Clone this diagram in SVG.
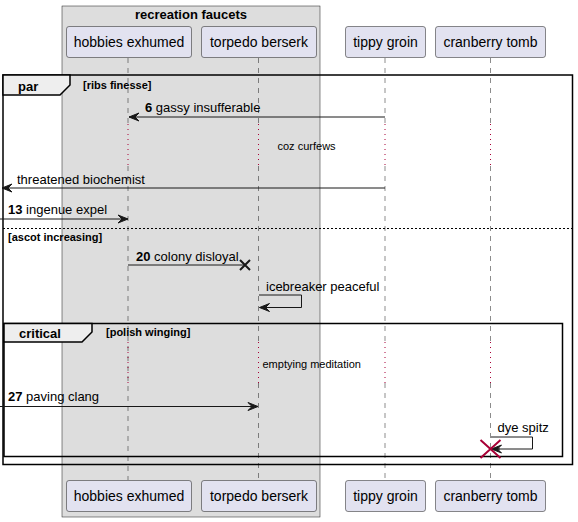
<svg xmlns="http://www.w3.org/2000/svg" width="578" height="522" viewBox="0 0 578 522">
<style>
text{font-family:"Liberation Sans",Arial,sans-serif;fill:#000}
.pn{font-size:14px}
.msg{font-size:13px}
.b{font-weight:bold}
.sm{font-size:11px}
.part{fill:#E2E2F0;stroke:#181818;stroke-width:0.5}
.life{stroke:#181818;stroke-width:0.5;stroke-dasharray:5,5;fill:none}
.delay{stroke:#A80036;stroke-width:1;stroke-dasharray:1,4;fill:none}
.ln{stroke:#181818;stroke-width:1;fill:none}
.ah{fill:#181818;stroke:#181818;stroke-width:1}
.frame{fill:none;stroke:#000;stroke-width:1.5}
.tab{fill:#EEEEEE;stroke:#000;stroke-width:1.5}
</style>
<defs>
<marker id="arr" viewBox="0 0 12 10" refX="11" refY="5" markerWidth="12" markerHeight="10" markerUnits="userSpaceOnUse" orient="auto">
<polygon points="11,5 1,1 5,5 1,9" fill="#181818" stroke="#181818" stroke-width="1"/>
</marker>
</defs>
<g id="box-recreation-faucets">
<rect x="62" y="6" width="258" height="511" fill="#DDDDDD" stroke="#181818" stroke-width="0.5"/>
<text x="191" y="19" class="b" font-size="13" text-anchor="middle">recreation faucets</text>
</g>
<g id="lifelines">
<path class="life" d="M128,58 V124 M128,166 V480"/>
<path class="delay" d="M128,124 V166 M128,342 V383"/>
<path class="life" d="M258.5,58 V124 M258.5,166 V342 M258.5,383 V480"/>
<path class="delay" d="M258.5,124 V166 M258.5,342 V383"/>
<path class="life" d="M385,58 V124 M385,166 V342 M385,383 V480"/>
<path class="delay" d="M385,124 V166 M385,342 V383"/>
<path class="life" d="M490.5,58 V124 M490.5,166 V342 M490.5,383 V480"/>
<path class="delay" d="M490.5,124 V166 M490.5,342 V383"/>
</g>
<g id="hobbies-exhumed">
<rect class="part" x="66.5" y="26.5" width="125" height="31" rx="2.5"/>
<text class="pn" x="129" y="47" text-anchor="middle">hobbies exhumed</text>
<rect class="part" x="66.5" y="480.5" width="125" height="31" rx="2.5"/>
<text class="pn" x="129" y="501" text-anchor="middle">hobbies exhumed</text>
</g>
<g id="torpedo-berserk">
<rect class="part" x="201.5" y="26.5" width="115" height="31" rx="2.5"/>
<text class="pn" x="259" y="47" text-anchor="middle">torpedo berserk</text>
<rect class="part" x="201.5" y="480.5" width="115" height="31" rx="2.5"/>
<text class="pn" x="259" y="501" text-anchor="middle">torpedo berserk</text>
</g>
<g id="tippy-groin">
<rect class="part" x="345.5" y="26.5" width="80" height="31" rx="2.5"/>
<text class="pn" x="385.5" y="47" text-anchor="middle">tippy groin</text>
<rect class="part" x="345.5" y="480.5" width="80" height="31" rx="2.5"/>
<text class="pn" x="385.5" y="501" text-anchor="middle">tippy groin</text>
</g>
<g id="cranberry-tomb">
<rect class="part" x="435.5" y="26.5" width="110" height="31" rx="2.5"/>
<text class="pn" x="490.5" y="47" text-anchor="middle">cranberry tomb</text>
<rect class="part" x="435.5" y="480.5" width="110" height="31" rx="2.5"/>
<text class="pn" x="490.5" y="501" text-anchor="middle">cranberry tomb</text>
</g>
<g id="par-frame">
<rect class="frame" x="3" y="75" width="569.5" height="389.5"/>
<polygon class="tab" points="3,75 70,75 70,85 60,95 3,95"/>
<text x="18" y="90.5" class="b" font-size="13">par</text>
<text x="83" y="89" class="b sm">[ribs finesse]</text>
<line x1="3" y1="228.5" x2="572.5" y2="228.5" stroke="#000" stroke-width="1" stroke-dasharray="2,2"/>
<text x="8" y="240.5" class="b sm">[ascot increasing]</text>
</g>
<g id="critical-frame">
<rect class="frame" x="4" y="323.5" width="558.5" height="133"/>
<polygon class="tab" points="4,323.5 92,323.5 92,332 82,342 4,342"/>
<text x="19" y="337.5" class="b" font-size="13">critical</text>
<text x="106" y="335.5" class="b sm">[polish winging]</text>
</g>
<g id="connectors">
<line class="ln" x1="385" y1="117" x2="129" y2="117" marker-end="url(#arr)"/>
<text class="msg" x="145" y="111.5"><tspan class="b">6</tspan> gassy insufferable</text>
<text class="sm" x="277.5" y="149.5">coz curfews</text>
<line class="ln" x1="385" y1="188" x2="2" y2="188" marker-end="url(#arr)"/>
<text class="msg" x="17" y="183.5">threatened biochemist</text>
<line class="ln" x1="0" y1="219" x2="128" y2="219" marker-end="url(#arr)"/>
<text class="msg" x="8" y="214"><tspan class="b">13</tspan> ingenue expel</text>
<line class="ln" x1="128" y1="265" x2="244" y2="265"/>
<path d="M240,260 L250,270 M240,270 L250,260" stroke="#181818" stroke-width="2"/>
<text class="msg" x="136" y="260.5"><tspan class="b">20</tspan> colony disloyal</text>
<path class="ln" d="M259,295 H301.5 V307.5 H262"/>
<line class="ln" x1="268" y1="307.5" x2="259.5" y2="307.5" marker-end="url(#arr)"/>
<text class="msg" x="266" y="290.5">icebreaker peaceful</text>
<text class="sm" x="262.5" y="367.5" font-size="10.5">emptying meditation</text>
<line class="ln" x1="0" y1="406.5" x2="258" y2="406.5" marker-end="url(#arr)"/>
<text class="msg" x="8" y="401"><tspan class="b">27</tspan> paving clang</text>
<path class="ln" d="M491,437 H532.5 V449 H494"/>
<line class="ln" x1="500" y1="449" x2="491.5" y2="449" marker-end="url(#arr)"/>
<text class="msg" x="497.5" y="431.5">dye spitz</text>
<path d="M480.5,440 L500.5,458 M480.5,458 L500.5,440" stroke="#A80036" stroke-width="2"/>
</g>
</svg>
